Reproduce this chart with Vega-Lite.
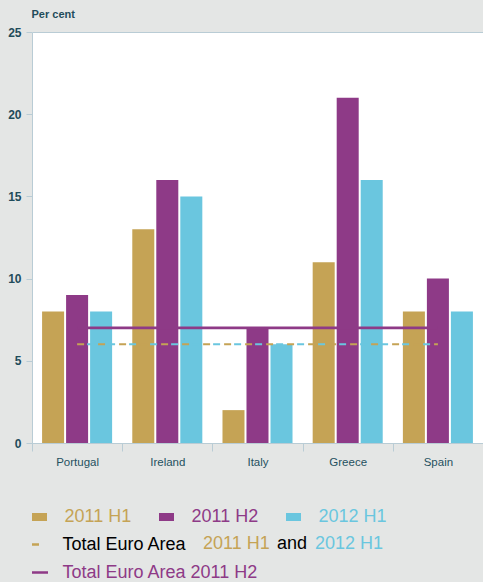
{
  "$schema": "https://vega.github.io/schema/vega-lite/v6.json",
  "width": 451,
  "height": 411,
  "autosize": {"type": "none"},
  "padding": {"left": 32, "top": 32, "right": 0, "bottom": 139},
  "background": "#e4e6e5",
  "config": {"view": {"fill": "#ffffff", "stroke": null}, "font": "Liberation Sans"},
  "data": {"values": [
    {"country": "Portugal", "period": "2011 H1", "value": 8, "avg": 6},
    {"country": "Portugal", "period": "2011 H2", "value": 9, "avg": 7},
    {"country": "Portugal", "period": "2012 H1", "value": 8, "avg": 6},
    {"country": "Ireland", "period": "2011 H1", "value": 13, "avg": 6},
    {"country": "Ireland", "period": "2011 H2", "value": 16, "avg": 7},
    {"country": "Ireland", "period": "2012 H1", "value": 15, "avg": 6},
    {"country": "Italy", "period": "2011 H1", "value": 2, "avg": 6},
    {"country": "Italy", "period": "2011 H2", "value": 7, "avg": 7},
    {"country": "Italy", "period": "2012 H1", "value": 6, "avg": 6},
    {"country": "Greece", "period": "2011 H1", "value": 11, "avg": 6},
    {"country": "Greece", "period": "2011 H2", "value": 21, "avg": 7},
    {"country": "Greece", "period": "2012 H1", "value": 16, "avg": 6},
    {"country": "Spain", "period": "2011 H1", "value": 8, "avg": 6},
    {"country": "Spain", "period": "2011 H2", "value": 10, "avg": 7},
    {"country": "Spain", "period": "2012 H1", "value": 8, "avg": 6}
  ]},
  "encoding": {
    "x": {
      "field": "country", "type": "nominal",
      "sort": ["Portugal", "Ireland", "Italy", "Greece", "Spain"],
      "scale": {"paddingInner": 0, "paddingOuter": 0},
      "axis": {
        "title": null, "labelAngle": 0, "tickBand": "extent", "tickSize": 8,
        "tickColor": "#b9ccd5", "domainColor": "#b9ccd5", "labelPadding": 5,
        "labelFont": "Liberation Sans", "labelFontSize": 11.5,
        "labelColor": "#24515f"
      }
    }
  },
  "layer": [
    {
      "mark": {"type": "bar"},
      "encoding": {
        "xOffset": {"field": "period", "type": "nominal", "scale": {"paddingInner": 0.083, "paddingOuter": 0.42}},
        "y": {
          "field": "value", "type": "quantitative", "title": "Per cent",
          "scale": {"domain": [0, 25], "nice": false},
          "axis": {
            "values": [0, 5, 10, 15, 20, 25], "tickSize": 6, "tickColor": "#b9ccd5",
            "domainColor": "#b9ccd5", "labelPadding": 5, "labelFontSize": 12,
            "labelFontWeight": "bold", "labelColor": "#1f4c5b",
            "labelFont": "Liberation Sans",
            "grid": true, "gridColor": "#b9ccd5",
            "gridOpacity": {"condition": {"test": "datum.value == 25", "value": 1}, "value": 0},
            "titleAngle": 0, "titleAlign": "left", "titleBaseline": "middle",
            "titleX": -1, "titleY": -18, "titleFontSize": 11, "titleFontWeight": "bold",
            "titleColor": "#1f4c5b", "titleFont": "Liberation Sans"
          }
        },
        "color": {
          "field": "period", "type": "nominal",
          "scale": {"domain": ["2011 H1", "2011 H2", "2012 H1"], "range": ["#c5a355", "#8e3a87", "#6ac6df"]},
          "legend": {
            "orient": "none", "legendX": 0, "legendY": 476, "direction": "horizontal",
            "columns": 3, "title": null, "symbolType": "M-1,-0.53H1V0.53H-1Z",
            "symbolSize": 225, "symbolStrokeWidth": 0, "symbolOffset": -1.5, "labelOffset": 16,
            "labelFontSize": 18, "labelFont": "Liberation Sans", "columnPadding": 27, "padding": 0,
            "labelColor": {"expr": "datum.value == '2011 H1' ? '#c5a355' : datum.value == '2011 H2' ? '#8e3a87' : '#6ac6df'"}
          }
        }
      }
    },
    {
      "transform": [{"filter": "datum.period == '2011 H2'"}],
      "mark": {"type": "line", "color": "#8e3a87", "strokeWidth": 2.8},
      "encoding": {
        "y": {"field": "avg", "type": "quantitative", "title": "Per cent"},
        "strokeDash": {
          "datum": "Total Euro Area 2011 H2",
          "scale": {"domain": ["Total Euro Area", "Total Euro Area 2011 H2"], "range": [[7, 14], [1, 0]]},
          "legend": {
            "orient": "none", "legendX": 0, "legendY": 503, "direction": "vertical",
            "title": null, "symbolType": "stroke", "symbolSize": 256, "symbolStrokeWidth": 2.5,
            "symbolOffset": -1.5,
            "symbolStrokeColor": {"expr": "datum.value == 'Total Euro Area' ? '#c5a355' : '#8e3a87'"},
            "labelOffset": 13, "labelFontSize": 18, "labelFont": "Liberation Sans",
            "labelColor": {"expr": "datum.value == 'Total Euro Area' ? '#000000' : '#8e3a87'"},
            "rowPadding": 9, "padding": 0, "labelLimit": 400
          }
        }
      }
    },
    {
      "transform": [{"filter": "datum.period == '2011 H1'"}],
      "mark": {"type": "line", "color": "#c5a355", "strokeWidth": 2, "strokeDash": [7, 14]},
      "encoding": {
        "y": {"field": "avg", "type": "quantitative", "title": "Per cent"}
      }
    },
    {
      "transform": [{"filter": "datum.period == '2012 H1'"}],
      "mark": {"type": "line", "color": "#6ac6df", "strokeWidth": 2, "strokeDash": [7, 14], "strokeDashOffset": 11},
      "encoding": {
        "y": {"field": "avg", "type": "quantitative", "title": "Per cent"},
        "opacity": {
          "datum": "2012 H1",
          "scale": {"domain": ["2011 H1", "and", "2012 H1"], "range": [1, 1]},
          "legend": {
            "orient": "none", "legendX": 171, "legendY": 503, "direction": "horizontal",
            "columns": 3, "title": null, "symbolSize": 1, "symbolOpacity": 0,
            "symbolStrokeColor": "transparent", "symbolFillColor": "transparent", "symbolStrokeWidth": 0,
            "labelOffset": -18, "columnPadding": 7, "labelFontSize": 18, "labelFont": "Liberation Sans",
            "padding": 0,
            "labelColor": {"expr": "datum.value == '2011 H1' ? '#c5a355' : datum.value == '2012 H1' ? '#6ac6df' : '#000000'"}
          }
        }
      }
    }
  ]
}
